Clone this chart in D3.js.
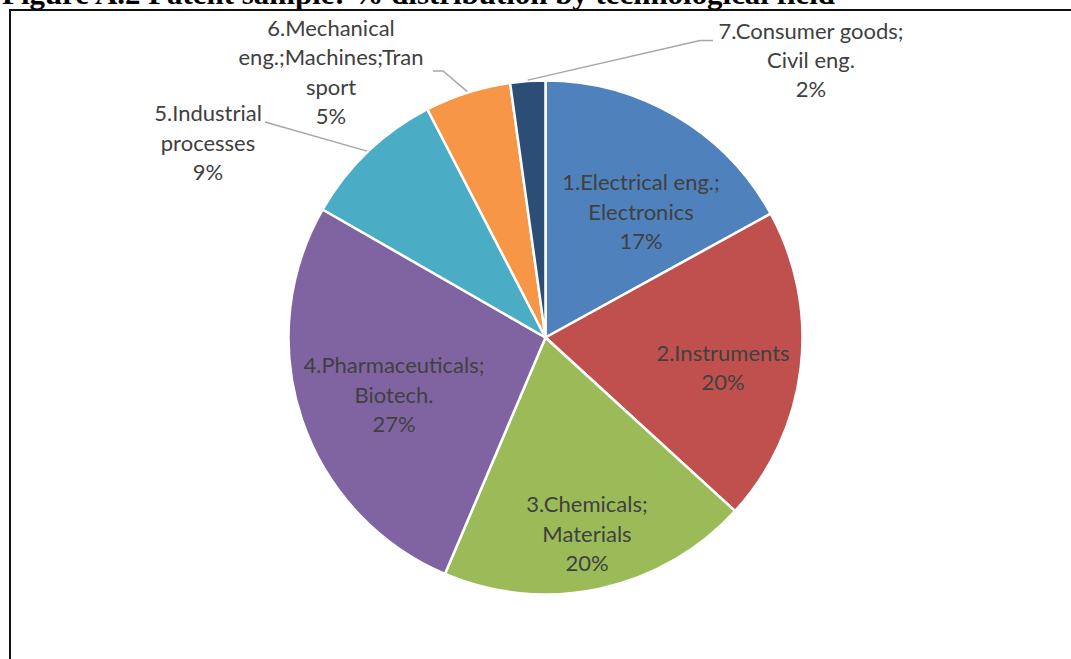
<!DOCTYPE html>
<html>
<head>
<meta charset="utf-8">
<script src="https://cdn.jsdelivr.net/npm/d3@7"></script>
<style>
  html, body { margin: 0; padding: 0; background: #fff; }
  svg { display: block; }
</style>
</head>
<body>
<svg id="chart" width="1071" height="659"></svg>
<script>
// Technological fields (line breaks as shown in the labels)
const categories = [
  "1.Electrical eng.;\nElectronics",
  "2.Instruments",
  "3.Chemicals;\nMaterials",
  "4.Pharmaceuticals;\nBiotech.",
  "5.Industrial\nprocesses",
  "6.Mechanical\neng.;Machines;Tran\nsport",
  "7.Consumer goods;\nCivil eng."
];
// Share of patents per field, %
const shares = [17.0, 19.8, 19.6, 26.9, 9.1, 5.4, 2.2];
const sliceColors = ["#4F81BD", "#C0504D", "#9BBB59", "#8064A2", "#4BACC6", "#F79646", "#2C4D75"];
const titleText = "Figure A.2 Patent sample: % distribution by technological field";

// Layout
const W = 1071, H = 659;
const cx = 545.5, cy = 337.5, R = 257;
const lineH = 29.3;
// label block centres, relative to the pie centre
const labelOffsets = [
  [95.5, -125.5], [177.5, 30.5], [41.5, 196.5], [-151.5, 57.5],
  [-337.5, -194.5], [-214.5, -265], [265.5, -277]
];
// leader lines for the outside labels: points from the label side toward the pie
const leaders = {
  4: [[-280.5, -215.5]],
  5: [[-112.5, -266.5], [-102.5, -266.5]],
  6: [[167.5, -297], [154.5, -297]]
};

const data = categories.map((c, i) => ({ name: c, value: shares[i], color: sliceColors[i] }));

const svg = d3.select("#chart");
svg.append("rect").attr("width", W).attr("height", H).attr("fill", "#fff");

// title, clipped by the top of the page
svg.append("text")
  .attr("x", 2).attr("y", 4)
  .attr("font-family", "'Liberation Serif', 'Times New Roman', serif")
  .attr("font-weight", "bold")
  .attr("font-size", 30)
  .attr("textLength", 833)
  .attr("lengthAdjust", "spacingAndGlyphs")
  .attr("fill", "#000")
  .text(titleText);

// chart frame
svg.append("rect")
  .attr("x", 10).attr("y", 10)
  .attr("width", W + 20).attr("height", H + 20)
  .attr("fill", "#fff")
  .attr("stroke", "#111").attr("stroke-width", 2);

const pie = d3.pie().sort(null).value(d => d.value).startAngle(0).endAngle(2 * Math.PI);
const arcs = pie(data);
const arc = d3.arc().innerRadius(0).outerRadius(R);

const g = svg.append("g").attr("transform", `translate(${cx},${cy})`);

g.selectAll("path.slice")
  .data(arcs)
  .join("path")
  .attr("class", "slice")
  .attr("d", arc)
  .attr("fill", d => d.data.color)
  .attr("stroke", "#fff")
  .attr("stroke-width", 2.5)
  .attr("stroke-linejoin", "round");

// leader lines
const edgeArc = d3.arc().innerRadius(R + 1).outerRadius(R + 1);
Object.keys(leaders).forEach(k => {
  const a = arcs[+k];
  const mid = (a.startAngle + a.endAngle) / 2;
  const start = [ (R + 1) * Math.sin(mid), -(R + 1) * Math.cos(mid) ];
  const pts = [start].concat(leaders[k].slice().reverse());
  g.append("path")
    .attr("d", d3.line()(pts))
    .attr("fill", "none")
    .attr("stroke", "#A6A6A6")
    .attr("stroke-width", 1.5);
});

// labels: category lines followed by the percentage
const fmt = d3.format(".0f");
arcs.forEach((a, i) => {
  const lines = a.data.name.split("\n").concat([fmt(a.data.value) + "%"]);
  const [ox, oy] = labelOffsets[i];
  const top = oy - (lines.length - 1) * lineH / 2;
  const t = g.append("text")
    .attr("font-family", "Lato, 'Open Sans', sans-serif")
    .attr("font-size", 22)
    .attr("fill", "#404040")
    .attr("text-anchor", "middle");
  lines.forEach((ln, j) => {
    t.append("tspan")
      .attr("x", ox)
      .attr("y", top + j * lineH + 7.5)
      .text(ln);
  });
});
</script>
</body>
</html>
